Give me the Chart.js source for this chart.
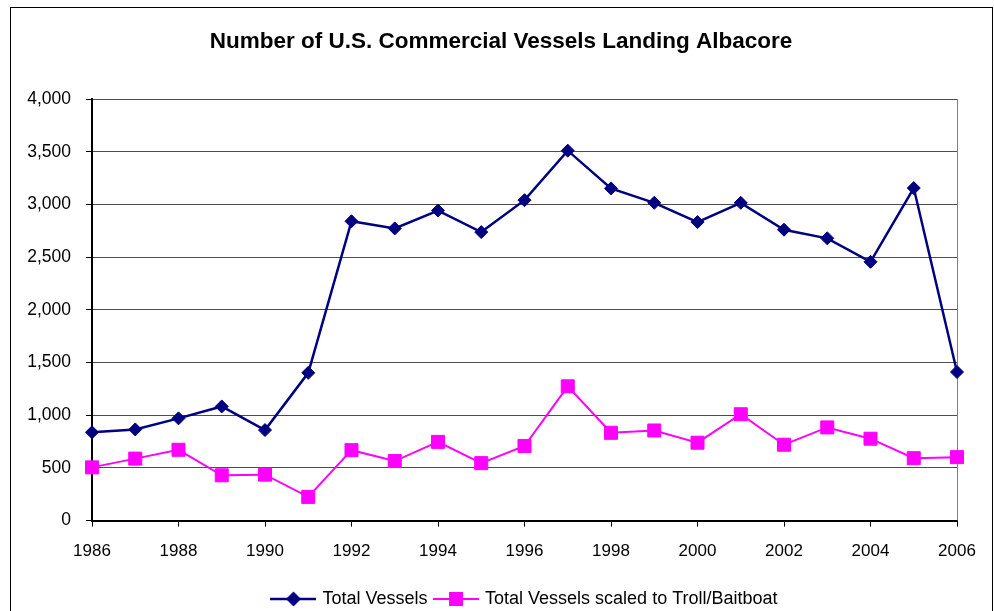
<!DOCTYPE html>
<html>
<head>
<meta charset="utf-8">
<script src="https://cdn.jsdelivr.net/npm/chart.js@4"></script>
<style>
  html, body { margin: 0; padding: 0; background: #fff; }
  #wrap { width: 994px; height: 611px; position: relative; }
</style>
</head>
<body>
<div id="wrap"><canvas id="chart"></canvas></div>
<script>
const years = ["1986", "1987", "1988", "1989", "1990", "1991", "1992", "1993", "1994", "1995", "1996",
  "1997", "1998", "1999", "2000", "2001", "2002", "2003", "2004", "2005", "2006"];
const totalVessels = [838, 865, 970, 1083, 859, 1402, 2840, 2772, 2942, 2737, 3040,
  3510, 3152, 3015, 2832, 3015, 2760, 2678, 2455, 3155, 1410];
const scaledVessels = [505, 588, 672, 430, 436, 225, 668, 565, 747, 545, 708,
  1274, 833, 855, 739, 1009, 720, 884, 777, 592, 602];
const yTicks = [0, 500, 1000, 1500, 2000, 2500, 3000, 3500, 4000];

const FONT = 'Arial, "Liberation Sans", sans-serif';
const NAVY = "#000080";
const MAGENTA = "#FF00FF";

// legend icon: line with marker in the middle, like Excel
function legendIcon(color, shape, lw) {
  const c = document.createElement("canvas");
  c.width = 46; c.height = 18;
  const g = c.getContext("2d");
  g.strokeStyle = color;
  g.lineWidth = lw;
  g.beginPath(); g.moveTo(0, 9); g.lineTo(46, 9); g.stroke();
  g.fillStyle = color;
  g.beginPath();
  if (shape === "diamond") {
    g.moveTo(15.5, 9); g.lineTo(23, 1.5); g.lineTo(30.5, 9); g.lineTo(23, 16.5); g.closePath();
  } else {
    g.rect(16, 2, 14, 14);
  }
  g.fill();
  return c;
}
const icons = [legendIcon(NAVY, "diamond", 2.5), legendIcon(MAGENTA, "square", 2)];

const frame = {
  id: "frame",
  beforeDraw(chart) {
    const ctx = chart.ctx;
    ctx.save();
    ctx.fillStyle = "#fff";
    ctx.fillRect(0, 0, chart.width, chart.height);
    ctx.strokeStyle = "#000";
    ctx.lineWidth = 1;
    ctx.strokeRect(10.5, 7.5, 982, 640);
    ctx.restore();
  },
  beforeDatasetsDraw(chart) {
    const { ctx, chartArea } = chart;
    ctx.save();
    ctx.strokeStyle = "#808080";
    ctx.lineWidth = 1;
    ctx.beginPath();
    ctx.moveTo(chartArea.right + 0.5, chartArea.top);
    ctx.lineTo(chartArea.right + 0.5, chartArea.bottom);
    ctx.stroke();
    ctx.restore();
  },
  afterLayout(chart) {
    // Excel centres title and legend on the page, a bit right of the plot centre
    const lg = chart.legend;
    lg.left += 37; lg.right += 37;
    lg.top += 4.5; lg.bottom += 4.5;
    const tt = chart.titleBlock;
    tt.left += 12.5; tt.right += 12.5;
  }
};

new Chart(document.getElementById("chart"), {
  type: "line",
  data: {
    labels: years,
    datasets: [
      {
        label: "Total Vessels",
        data: totalVessels,
        borderColor: NAVY,
        backgroundColor: NAVY,
        borderWidth: 2.5,
        pointStyle: "rectRot",
        pointRadius: 6.5,
        pointBorderWidth: 1,
        pointHoverRadius: 6.5,
        tension: 0,
        clip: false
      },
      {
        label: "Total Vessels scaled to Troll/Baitboat",
        data: scaledVessels,
        borderColor: MAGENTA,
        backgroundColor: MAGENTA,
        borderWidth: 2,
        pointStyle: "rect",
        pointRadius: 9.2,
        pointBorderWidth: 1,
        pointHoverRadius: 9.2,
        tension: 0,
        clip: false
      }
    ]
  },
  options: {
    responsive: true,
    maintainAspectRatio: false,
    animation: false,
    layout: { padding: { left: 20, right: 37, top: 0, bottom: -2.5 } },
    plugins: {
      title: {
        display: true,
        text: "Number of U.S. Commercial Vessels Landing Albacore",
        color: "#000",
        font: { family: FONT, size: 22.5, weight: "bold" },
        padding: { top: 28, bottom: 44 }
      },
      legend: {
        position: "bottom",
        labels: {
          color: "#000",
          font: { family: FONT, size: 18 },
          usePointStyle: true,
          pointStyleWidth: 40,
          padding: 8.5,
          generateLabels(chart) {
            const items = Chart.defaults.plugins.legend.labels.generateLabels(chart);
            items.forEach((it, i) => { it.pointStyle = icons[i]; });
            return items;
          }
        }
      },
      tooltip: { enabled: false }
    },
    scales: {
      x: {
        type: "category",
        offset: false,
        grid: { drawOnChartArea: false, drawTicks: true, tickLength: 6, color: "#000", lineWidth: 1 },
        border: { color: "#000", width: 2 },
        ticks: {
          autoSkip: false,
          maxRotation: 0,
          color: "#000",
          padding: 15,
          font: { family: FONT, size: 17 },
          callback(value, index) {
            return index % 2 === 0 ? years[index] : null;
          }
        }
      },
      y: {
        min: 0,
        max: 4000,
        afterFit(s) { s.width = 72; },
        afterBuildTicks(s) { s.ticks = yTicks.map(v => ({ value: v })); },
        grid: { color: "#4d4d4d", lineWidth: 1, tickLength: 6, tickColor: "#000" },
        border: { color: "#000", width: 2 },
        ticks: {
          color: "#000",
          padding: 15,
          font: { family: FONT, size: 17.5 },
          callback(value) { return value.toLocaleString("en-US"); }
        }
      }
    }
  },
  plugins: [frame]
});
</script>
</body>
</html>
